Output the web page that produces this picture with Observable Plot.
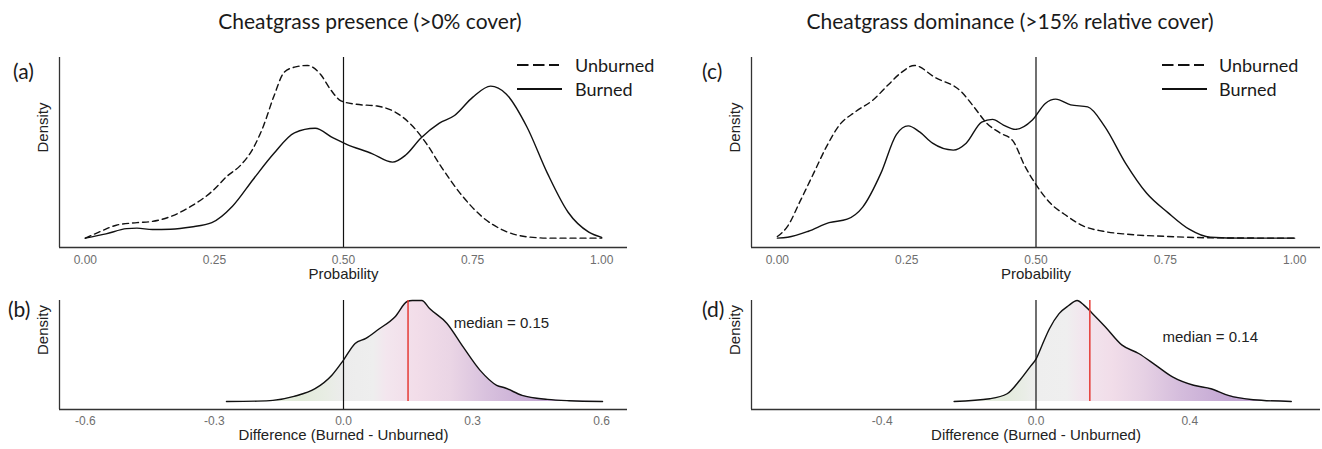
<!DOCTYPE html>
<html><head><meta charset="utf-8">
<script src="https://cdn.jsdelivr.net/npm/d3@7"></script>
<script src="https://cdn.jsdelivr.net/npm/@observablehq/plot@0.6"></script>
<style>
html,body{margin:0;padding:0;background:#fff;}
#fig{position:relative;width:1322px;height:449px;overflow:hidden;font-family:Lato,"Open Sans",sans-serif;color:#1a1a1a;}
.abs{position:absolute;white-space:nowrap;line-height:1;}
.title{font-size:21px;transform:translate(-50%,-50%);}
.tag{font-size:21px;transform:translateY(-50%);}
.leg{font-size:18px;transform:translateY(-50%);}
.legline{transform:translateY(-50%);}
</style></head><body><div id="fig"></div>
<script>
// ---------- data ----------
const titles = ["Cheatgrass presence (>0% cover)", "Cheatgrass dominance (>15% relative cover)"];
const panelTags = ["(a)", "(b)", "(c)", "(d)"];
const seriesNames = ["Unburned", "Burned"];
const probTicks = [0, 0.25, 0.5, 0.75, 1];
const diffTicksB = [-0.6, -0.3, 0, 0.3, 0.6];
const diffTicksD = [-0.4, 0, 0.4];
const probThreshold = [0.5];
const diffZero = [0];
const medians = [0.15, 0.14];
const axisTitles = {prob: "Probability", diff: "Difference (Burned - Unburned)", dens: "Density"};

// relative density, panel (a)
const unburnedA = [[0,0],[0.03,0.04],[0.06,0.075],[0.10,0.09],[0.13,0.097],[0.165,0.125],[0.205,0.185],[0.245,0.27],[0.275,0.36],[0.30,0.42],[0.325,0.52],[0.345,0.65],[0.365,0.82],[0.385,0.96],[0.405,0.99],[0.43,1.0],[0.455,0.95],[0.475,0.86],[0.495,0.795],[0.525,0.775],[0.565,0.765],[0.60,0.73],[0.635,0.645],[0.66,0.55],[0.69,0.41],[0.73,0.245],[0.77,0.12],[0.81,0.045],[0.855,0.008],[0.90,0],[1.0,0]];
const burnedA = [[0,0],[0.04,0.025],[0.08,0.055],[0.10,0.058],[0.13,0.05],[0.165,0.052],[0.205,0.065],[0.245,0.09],[0.285,0.185],[0.325,0.34],[0.365,0.49],[0.405,0.61],[0.445,0.636],[0.48,0.58],[0.505,0.545],[0.555,0.49],[0.595,0.44],[0.62,0.48],[0.65,0.58],[0.685,0.665],[0.715,0.71],[0.75,0.815],[0.785,0.88],[0.815,0.835],[0.855,0.645],[0.895,0.375],[0.935,0.15],[0.975,0.035],[1.0,0.005]];
// panel (c)
const unburnedC = [[0,0.01],[0.02,0.07],[0.045,0.22],[0.07,0.375],[0.095,0.53],[0.12,0.655],[0.15,0.73],[0.185,0.80],[0.215,0.89],[0.24,0.96],[0.265,1.0],[0.305,0.93],[0.355,0.85],[0.38,0.76],[0.405,0.665],[0.43,0.61],[0.455,0.565],[0.478,0.42],[0.50,0.31],[0.527,0.205],[0.56,0.128],[0.59,0.072],[0.63,0.04],[0.675,0.023],[0.755,0.01],[0.84,0.002],[1.0,0]];
const burnedC = [[0,0],[0.02,0.005],[0.06,0.04],[0.10,0.09],[0.135,0.11],[0.165,0.18],[0.20,0.375],[0.23,0.6],[0.253,0.65],[0.275,0.615],[0.30,0.55],[0.34,0.51],[0.365,0.55],[0.395,0.672],[0.416,0.688],[0.437,0.655],[0.46,0.63],[0.493,0.684],[0.518,0.78],[0.538,0.805],[0.567,0.772],[0.60,0.76],[0.633,0.646],[0.673,0.435],[0.714,0.26],[0.755,0.148],[0.796,0.052],[0.837,0.005],[0.9,0],[1.0,0]];
// difference densities, panels (b) and (d)
const diffB = [[-0.272,0],[-0.2,0.003],[-0.164,0.01],[-0.115,0.05],[-0.066,0.126],[-0.027,0.26],[0,0.41],[0.027,0.575],[0.052,0.625],[0.08,0.71],[0.12,0.84],[0.148,0.99],[0.16,1.0],[0.182,1.0],[0.2,0.92],[0.24,0.775],[0.278,0.54],[0.317,0.31],[0.356,0.16],[0.376,0.133],[0.415,0.06],[0.474,0.02],[0.524,0.007],[0.602,0]];
const diffD = [[-0.213,0],[-0.12,0.027],[-0.075,0.076],[-0.042,0.21],[-0.014,0.35],[0,0.42],[0.015,0.55],[0.035,0.72],[0.06,0.87],[0.085,0.95],[0.107,1.0],[0.124,0.957],[0.146,0.874],[0.18,0.74],[0.223,0.56],[0.267,0.475],[0.311,0.36],[0.355,0.243],[0.41,0.16],[0.455,0.126],[0.5,0.06],[0.565,0.017],[0.664,0]];

// ---------- style / layout ----------
const gradStopsB = [[-0.27,"#eef3ea"],[-0.1,"#e2ebda"],[-0.04,"#e8ede4"],[0,"#ececec"],[0.07,"#eeeeee"],[0.1,"#f3e6ee"],[0.17,"#f2dde9"],[0.25,"#ead5e5"],[0.33,"#d9c2de"],[0.45,"#c6aad4"],[0.6,"#b99ccc"]];
const gradStopsD = [[-0.21,"#eef3ea"],[-0.08,"#e3ebdc"],[-0.03,"#e9ede6"],[0,"#eeeeee"],[0.08,"#efefef"],[0.12,"#f2e6ee"],[0.2,"#f1dde9"],[0.28,"#e6d1e4"],[0.38,"#d4bcdc"],[0.5,"#c4a8d4"],[0.66,"#bb9dcd"]];
const cols = [
  {left: 0, width: 660, marginLeft: 59, marginRight: 33, titleX: 370, tagX: 13, tagXb: 8, legLineX: 517, legTextX: 575, diffDomain: [-0.66, 0.66], diffTicks: diffTicksB, medLabel: [0.256, 0.78]},
  {left: 660, width: 662, marginLeft: 91, marginRight: 2, titleX: 1010, tagX: 702, tagXb: 702, legLineX: 1162, legTextX: 1219, diffDomain: [-0.74, 0.74], diffTicks: diffTicksD, medLabel: [0.329, 0.64]}
];
const topRow = {top: 40, height: 250, marginTop: 17, marginBottom: 43, yDomain: [-0.054, 1.046], tagY: 70};
const botRow = {top: 290, height: 159, marginTop: 10, marginBottom: 40, yDomain: [-0.08, 1.0], tagY: 308};
const ink = "#111";
const axisInk = "#333";
const plotStyle = {fontFamily: "'Liberation Sans', Arial, sans-serif", fontSize: "12px", color: "#6e6e6e", background: "transparent", overflow: "visible"};

const fig = document.getElementById("fig");
function addDiv(cls, text, x, y) {
  const d = document.createElement("div");
  d.className = "abs " + cls; d.textContent = text;
  d.style.left = x + "px"; d.style.top = y + "px";
  fig.appendChild(d); return d;
}
function legendLine(x, y, dash) {
  const ns = "http://www.w3.org/2000/svg";
  const s = document.createElementNS(ns, "svg");
  s.setAttribute("width", 46); s.setAttribute("height", 4);
  s.setAttribute("class", "abs legline");
  s.style.left = x + "px"; s.style.top = y + "px";
  const l = document.createElementNS(ns, "line");
  l.setAttribute("x1", 0); l.setAttribute("x2", dash ? 42 : 45); l.setAttribute("y1", 2); l.setAttribute("y2", 2);
  l.setAttribute("stroke", ink); l.setAttribute("stroke-width", 2);
  if (dash) l.setAttribute("stroke-dasharray", "11.5,4.5");
  s.appendChild(l); fig.appendChild(s);
}

function gradientMark(id, stops) {
  return (index, scales) => {
    const ns = "http://www.w3.org/2000/svg";
    const sx = scales.x;
    const defs = document.createElementNS(ns, "defs");
    const g = document.createElementNS(ns, "linearGradient");
    g.setAttribute("id", id);
    g.setAttribute("gradientUnits", "userSpaceOnUse");
    const x0 = sx(stops[0][0]), x1 = sx(stops[stops.length - 1][0]);
    g.setAttribute("x1", x0); g.setAttribute("x2", x1); g.setAttribute("y1", 0); g.setAttribute("y2", 0);
    for (const [v, c] of stops) {
      const st = document.createElementNS(ns, "stop");
      st.setAttribute("offset", (sx(v) - x0) / (x1 - x0));
      st.setAttribute("stop-color", c);
      g.appendChild(st);
    }
    defs.appendChild(g);
    return defs;
  };
}

const X = d => d[0], Y = d => d[1];

function place(svg, left, top) {
  svg.style.position = "absolute";
  svg.style.left = left + "px"; svg.style.top = top + "px";
  svg.style.margin = "0";
  fig.appendChild(svg);
}

cols.forEach((c, i) => {
  const unb = i === 0 ? unburnedA : unburnedC;
  const bur = i === 0 ? burnedA : burnedC;
  const diff = i === 0 ? diffB : diffD;
  const stops = i === 0 ? gradStopsB : gradStopsD;
  const gid = "diffGrad" + i;
  const probDomain = [-0.05, 1.05];

  const top = Plot.plot({
    width: c.width, height: topRow.height,
    marginLeft: c.marginLeft, marginRight: c.marginRight, marginTop: topRow.marginTop, marginBottom: topRow.marginBottom,
    style: plotStyle,
    x: {domain: probDomain, ticks: probTicks, tickFormat: d => d.toFixed(2), tickSize: 0, tickPadding: 8, label: null},
    y: {domain: topRow.yDomain, axis: null},
    marks: [
      Plot.ruleX(probThreshold, {stroke: ink, strokeWidth: 1.2}),
      Plot.line(unb, {x: X, y: Y, stroke: ink, strokeWidth: 1.4, strokeDasharray: "6,4", curve: "monotone-x"}),
      Plot.line(bur, {x: X, y: Y, stroke: ink, strokeWidth: 1.4, curve: "monotone-x"}),
      Plot.ruleX([probDomain[0]], {stroke: axisInk, strokeWidth: 1.3}),
      Plot.ruleY([topRow.yDomain[0]], {stroke: axisInk, strokeWidth: 1.3}),
      Plot.text([axisTitles.prob], {frameAnchor: "bottom", dy: 31, fontSize: 15, fill: "#222"}),
      Plot.text([axisTitles.dens], {frameAnchor: "left", dx: -16, rotate: -90, fontSize: 15, fill: "#222"})
    ]
  });
  place(top, c.left, topRow.top);

  const bot = Plot.plot({
    width: c.width, height: botRow.height,
    marginLeft: c.marginLeft, marginRight: c.marginRight, marginTop: botRow.marginTop, marginBottom: botRow.marginBottom,
    style: plotStyle,
    x: {domain: c.diffDomain, ticks: c.diffTicks, tickFormat: d => d.toFixed(1), tickSize: 0, tickPadding: 7, label: null},
    y: {domain: botRow.yDomain, axis: null},
    marks: [
      gradientMark(gid, stops),
      Plot.areaY(diff, {x: X, y: Y, fill: `url(#${gid})`, curve: "monotone-x"}),
      Plot.line(diff, {x: X, y: Y, stroke: ink, strokeWidth: 1.4, curve: "monotone-x"}),
      Plot.ruleX(diffZero, {stroke: ink, strokeWidth: 1.2}),
      Plot.ruleX([medians[i]], {y1: 0, y2: botRow.yDomain[1], stroke: "#e53b35", strokeWidth: 1.5}),
      Plot.ruleX([c.diffDomain[0]], {stroke: axisInk, strokeWidth: 1.3}),
      Plot.ruleY([botRow.yDomain[0]], {stroke: axisInk, strokeWidth: 1.3}),
      Plot.text([medians[i]], {x: () => c.medLabel[0], y: () => c.medLabel[1], text: d => `median = ${d.toFixed(2)}`, textAnchor: "start", fontSize: 15, fill: "#222"}),
      Plot.text([axisTitles.diff], {frameAnchor: "bottom", dy: 30.5, fontSize: 15, fill: "#222"}),
      Plot.text([axisTitles.dens], {frameAnchor: "left", dx: -16, rotate: -90, fontSize: 15, fill: "#222"})
    ]
  });
  place(bot, c.left, botRow.top);

  addDiv("title", titles[i], c.titleX, 20);
  addDiv("tag", panelTags[i * 2], c.tagX, topRow.tagY);
  addDiv("tag", panelTags[i * 2 + 1], c.tagXb, botRow.tagY);
  legendLine(c.legLineX, 65, true);
  legendLine(c.legLineX, 89, false);
  addDiv("leg", seriesNames[0], c.legTextX, 65);
  addDiv("leg", seriesNames[1], c.legTextX, 89);
});
</script></body></html>
